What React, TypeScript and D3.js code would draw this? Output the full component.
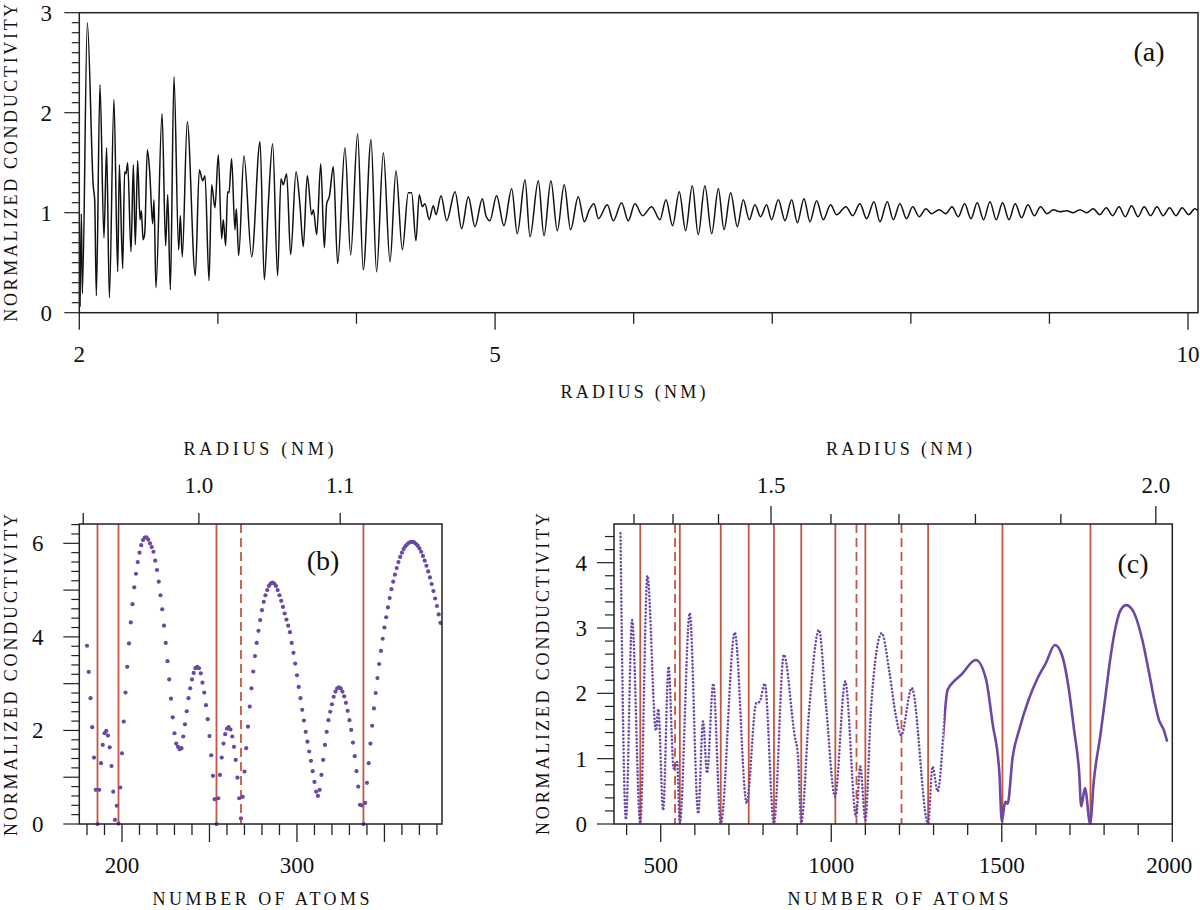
import React from "react";
import * as d3 from "d3";

// ---------- Panel (a): conductivity vs radius (nm) ----------
const aRadius = [
  2.005, 2.015, 2.022, 2.058, 2.101, 2.111, 2.123, 2.149, 2.178, 2.197, 2.217, 2.25, 2.277, 2.289, 2.313, 2.327, 2.337, 2.349, 2.373, 2.39,
  2.404, 2.421, 2.438, 2.448, 2.46, 2.472, 2.491, 2.508, 2.529, 2.539, 2.553, 2.597, 2.623, 2.638, 2.657, 2.683, 2.717, 2.729, 2.743, 2.779,
  2.837, 2.866, 2.89, 2.907, 2.936, 2.955, 2.979, 3.003, 3.027, 3.039, 3.056, 3.07, 3.08, 3.099, 3.123, 3.133, 3.15,
  3.188, 3.244, 3.304, 3.335, 3.364, 3.395, 3.431, 3.455, 3.472, 3.496, 3.525, 3.564, 3.592, 3.616, 3.645, 3.677, 3.689, 3.713, 3.742, 3.768,
  3.785, 3.804, 3.833, 3.864, 3.917, 3.958, 4.008, 4.049, 4.105, 4.145, 4.194, 4.242, 4.285, 4.331, 4.374, 4.398, 4.429, 4.453, 4.475, 4.494,
  4.525, 4.554, 4.574, 4.61, 4.651, 4.711, 4.759, 4.807,
  4.855, 4.908, 4.934, 4.963, 5.011, 5.064, 5.12, 5.16, 5.216, 5.252, 5.312, 5.353, 5.403, 5.449, 5.499, 5.545, 5.6, 5.644, 5.68, 5.714,
  5.745, 5.81, 5.853, 5.913, 5.961, 6.009, 6.065, 6.13, 6.19, 6.233, 6.281, 6.329, 6.375, 6.423, 6.466,
  6.514, 6.563, 6.611, 6.652, 6.7, 6.748, 6.791, 6.834, 6.875, 6.916, 6.959, 6.995, 7.044, 7.092, 7.14, 7.181, 7.229, 7.272, 7.32, 7.368,
  7.421, 7.464, 7.532, 7.58, 7.633, 7.681, 7.734, 7.777, 7.83, 7.873, 7.921, 7.969, 8.013, 8.061, 8.109, 8.15,
  8.205, 8.253, 8.297, 8.342, 8.388, 8.434, 8.479, 8.525, 8.571, 8.616, 8.662, 8.708, 8.753, 8.799, 8.845, 8.891, 8.936, 8.982, 9.028, 9.076,
  9.124, 9.172, 9.22, 9.268, 9.316, 9.364, 9.41, 9.456, 9.502, 9.547, 9.593, 9.639, 9.684, 9.73, 9.776, 9.821, 9.867, 9.913, 9.958, 10.004,
  10.05, 10.071,
];
const aConductivity = [
  0.06, 0.99, 0.19, 2.9, 1.26, 1.13, 0.17, 2.28, 0.75, 1.65, 0.15, 2.13, 0.41, 1.48, 0.44, 1.41, 1.39, 1.5, 0.61, 1.48,
  0.68, 1.52, 0.93, 1.02, 0.73, 0.79, 1.63, 1.41, 0.89, 1.13, 0.25, 1.99, 0.67, 1.18, 0.23, 2.36, 0.63, 0.97, 0.56, 1.91,
  0.37, 1.43, 1.32, 1.37, 0.32, 1.28, 1.05, 1.58, 0.74, 0.93, 0.67, 1.21, 1.2, 1.54, 0.83, 1.04, 0.57,
  1.57, 0.56, 1.71, 0.33, 1.09, 1.69, 0.37, 1.34, 1.28, 1.39, 0.58, 1.41, 1.08, 0.66, 1.37, 0.98, 1.03, 0.78, 1.49, 0.65,
  1.09, 1.16, 1.46, 0.49, 1.65, 0.58, 1.79, 0.43, 1.73, 0.41, 1.6, 0.51, 1.42, 0.63, 1.2, 1.2, 0.72, 1.18, 1.06, 1.09,
  0.93, 1.07, 0.98, 1.17, 0.92, 1.21, 0.84, 1.16,
  0.86, 1.14, 0.97, 0.92, 1.17, 0.87, 1.24, 0.79, 1.33, 0.76, 1.32, 0.77, 1.32, 0.82, 1.28, 0.83, 1.16, 0.91, 1.03, 1.09,
  0.94, 1.08, 0.92, 1.1, 0.92, 1.09, 0.97, 1.06, 0.93, 1.13, 0.87, 1.21, 0.82, 1.27, 0.78,
  1.27, 0.79, 1.24, 0.83, 1.2, 0.86, 1.13, 0.93, 1.08, 0.96, 1.08, 0.93, 1.13, 0.92, 1.13, 0.9, 1.14, 0.91, 1.12, 0.93,
  1.08, 0.98, 1.06, 0.97, 1.09, 0.94, 1.11, 0.91, 1.11, 0.93, 1.09, 0.94, 1.06, 0.96, 1.04, 0.99,
  1.03, 0.99, 1.06, 0.96, 1.09, 0.94, 1.1, 0.93, 1.11, 0.93, 1.1, 0.93, 1.09, 0.95, 1.08, 0.97, 1.06, 0.99, 1.03, 1.01,
  1.02, 1.0, 1.03, 1.0, 1.04, 0.98, 1.05, 0.97, 1.06, 0.96, 1.07, 0.96, 1.06, 0.97, 1.06, 0.97, 1.05, 0.97, 1.05, 0.98,
  1.04, 1.02,
];
const aXMajor = [2, 5, 10];
const aXMinor = [3, 4, 6, 7, 8, 9];

// ---------- Panel (b): one value per atom number, N = 180 ... 382 ----------
const bFirstAtom = 180;
const bConductivity = [
  3.81, 3.25, 2.69, 2.07, 1.42, 0.73, 0.0, 0.73, 1.3, 1.69, 1.94, 1.99, 1.89, 1.64, 1.24, 0.69, 0.09, 0.39, 0.01, 0.78,
  1.51, 2.19, 2.81, 3.36, 3.86, 4.31, 4.7, 5.06, 5.35, 5.6, 5.8, 5.96, 6.07, 6.12, 6.13, 6.08, 6.0, 5.92, 5.82, 5.63,
  5.43, 5.18, 4.89, 4.59, 4.24, 3.87, 3.48, 3.09, 2.68, 2.28, 1.94, 1.72, 1.65, 1.6, 1.62, 1.87, 2.13, 2.41, 2.69, 2.9,
  3.09, 3.23, 3.33, 3.36, 3.33, 3.22, 3.02, 2.81, 2.54, 2.24, 1.88, 1.47, 1.03, 0.53, 0.0, 0.55, 1.05, 1.42, 1.72, 1.92,
  2.04, 2.07, 2.02, 1.87, 1.65, 1.37, 0.99, 0.55, 0.12, 0.58, 1.12, 1.62, 2.08, 2.51, 2.9, 3.26, 3.59, 3.87, 4.13, 4.36,
  4.57, 4.75, 4.89, 5.0, 5.09, 5.14, 5.16, 5.14, 5.09, 5.0, 4.89, 4.77, 4.64, 4.5, 4.37, 4.24, 4.1, 3.87, 3.66, 3.43,
  3.18, 2.93, 2.69, 2.44, 2.21, 1.97, 1.76, 1.55, 1.35, 1.13, 0.9, 0.69, 0.6, 0.73, 1.05, 1.37, 1.69, 1.97, 2.22, 2.4,
  2.56, 2.72, 2.83, 2.9, 2.92, 2.9, 2.83, 2.73, 2.59, 2.42, 2.22, 2.01, 1.74, 1.45, 1.13, 0.8, 0.41, 0.4, 0.0, 0.45,
  0.88, 1.3, 1.72, 2.1, 2.47, 2.8, 3.12, 3.42, 3.7, 3.96, 4.2, 4.42, 4.63, 4.83, 5.02, 5.18, 5.33, 5.47, 5.6, 5.71,
  5.8, 5.88, 5.94, 5.98, 6.01, 6.03, 6.03, 6.02, 5.99, 5.95, 5.89, 5.82, 5.73, 5.63, 5.52, 5.4, 5.27, 5.13, 4.98, 4.82,
  4.66, 4.48, 4.3,
];
const bShells = [186, 198, 254, 338];
const bShellsDashed = [268];

// ---------- Panel (c): conductivity vs number of atoms ----------
const cAtoms = [
  382, 398, 416, 440, 461, 486, 493, 507, 523, 538, 548, 556, 585, 610, 624, 636, 654, 676, 717, 752,
  780, 790, 805, 832, 861, 893, 902, 912, 936, 964, 985, 1011, 1041, 1073, 1085, 1100, 1117, 1148, 1171, 1190,
  1205, 1236, 1284, 1297, 1312, 1341, 1361, 1380, 1424, 1454, 1473, 1493, 1500, 1510, 1517, 1532, 1551, 1580, 1605, 1629,
  1656, 1678, 1697, 1712, 1727, 1733, 1744, 1759, 1770, 1790, 1805, 1819, 1834, 1849, 1865, 1888, 1912, 1932, 1951, 1961,
  1975, 1985,
];
const cConductivity = [
  4.45, 0.07, 3.12, 0.01, 3.8, 1.43, 1.76, 0.21, 2.41, 0.85, 0.95, 0.01, 3.23, 0.16, 1.57, 0.78, 2.15, 0.01, 2.93, 0.32,
  1.85, 1.87, 2.15, 0.01, 2.59, 1.34, 1.08, 0.02, 1.8, 2.97, 1.8, 0.42, 2.18, 0.11, 0.88, 0.06, 1.8, 2.92, 2.31, 1.64,
  1.36, 2.08, 0.01, 0.88, 0.5, 2.05, 2.19, 2.28, 2.51, 2.21, 1.54, 0.78, 0.04, 0.34, 0.31, 1.03, 1.44, 1.92, 2.23, 2.46,
  2.74, 2.56, 2.05, 1.44, 0.78, 0.27, 0.55, 0.01, 0.67, 1.39, 2.0, 2.56, 3.02, 3.28, 3.35, 3.23, 2.82, 2.31, 1.8, 1.59,
  1.44, 1.26,
];
const cShells = [440, 556, 676, 758, 832, 912, 1012, 1100, 1284, 1502, 1760];
const cShellsDashed = [542, 1074, 1206];

// radius (nm) = R0 * N^(1/3)
const R0 = 0.16004;
const bRadiusTicks = [0.9, 1.0, 1.1];
const bRadiusLabels = [1.0, 1.1];
const cRadiusTicks = [1.2, 1.3, 1.4, 1.5, 1.6, 1.7, 1.8, 1.9, 2.0];
const cRadiusLabels = [1.5, 2.0];

const FONT = "'Liberation Serif', 'DejaVu Serif', 'Noto Serif', 'Times New Roman', Times, serif";
const INK = "#222";
const PURPLE = "#6a48a4";
const RED = "#c4573f";

const range = (a: number, b: number, s: number) => {
  const out: number[] = [];
  for (let i = 0; a + i * s <= b + 1e-9; i++) out.push(+(a + i * s).toFixed(6));
  return out;
};
const atomsForRadius = (r: number) => Math.pow(r / R0, 3);

export default function App() {
  const aX = d3.scaleLinear().domain([2, 10.072]).range([79.3, 1198]);
  const aY = d3.scaleLinear().domain([0, 3]).range([312.7, 12.7]);
  const bX = d3.scaleLinear().domain([175.6, 382.9]).range([79.3, 442]);
  const bY = d3.scaleLinear().domain([0, 6.413]).range([824, 524]);
  const cX = d3.scaleLinear().domain([363, 2000]).range([614, 1172.3]);
  const cY = d3.scaleLinear().domain([0, 4.592]).range([824, 524]);

  const aPath = d3
    .line<number>()
    .x((_, i) => aX(aRadius[i]))
    .y((d) => aY(d))
    .curve(d3.curveMonotoneX)(aConductivity) as string;

  const cPath = d3
    .line<number>()
    .x((_, i) => cX(cAtoms[i]))
    .y((d) => cY(d))
    .curve(d3.curveMonotoneX)(cConductivity) as string;

  const cSplit = cX(1330);

  const tickFont = 23;
  const tickDy = 8;
  const titleFont = 18;

  const txt = (props: any, s: string) => (
    <text style={{ fontFamily: FONT }} fill="#111" {...props}>
      {s}
    </text>
  );

  return (
    <svg
      width={1200}
      height={910}
      style={{ position: "absolute", left: 0, top: 0, background: "#fff", fontFamily: FONT }}
    >
      <defs>
        <clipPath id="clipA">
          <rect x={79.3} y={12.7} width={1198 - 79.3} height={300} />
        </clipPath>
        <clipPath id="clipB">
          <rect x={79.3} y={520} width={442 - 79.3} height={306} />
        </clipPath>
        <clipPath id="clipCL">
          <rect x={614} y={520} width={cSplit - 614} height={306} />
        </clipPath>
        <clipPath id="clipCR">
          <rect x={cSplit} y={520} width={1172.3 - cSplit} height={306} />
        </clipPath>
      </defs>

      {/* ================= Panel (a) ================= */}
      <g>
        {range(0, 3, 0.1).map((v) => {
          const major = Math.abs(v - Math.round(v)) < 1e-6;
          return (
            <line key={"ay" + v} x1={79.3 - (major ? 15 : 7.5)} x2={79.3} y1={aY(v)} y2={aY(v)} stroke={INK} strokeWidth={1.2} />
          );
        })}
        {[0, 1, 2, 3].map((v) =>
          txt({ key: "ayl" + v, x: 52, y: aY(v) + tickDy, textAnchor: "end", fontSize: tickFont }, String(v))
        )}
        {aXMajor.map((v) => (
          <line key={"axM" + v} x1={aX(v)} x2={aX(v)} y1={312.7} y2={312.7 + 17} stroke={INK} strokeWidth={1.3} />
        ))}
        {aXMinor.map((v) => (
          <line key={"axm" + v} x1={aX(v)} x2={aX(v)} y1={312.7} y2={312.7 + 11} stroke={INK} strokeWidth={1.3} />
        ))}
        {aXMajor.map((v) =>
          txt({ key: "axl" + v, x: aX(v), y: 362, textAnchor: "middle", fontSize: tickFont }, String(v))
        )}
        <path d={aPath} fill="none" stroke="#111" strokeWidth={1.5} clipPath="url(#clipA)" />
        <rect x={79.3} y={12.7} width={1198 - 79.3} height={300} fill="none" stroke={INK} strokeWidth={1.5} />
        {txt({ x: 1149, y: 61, textAnchor: "middle", fontSize: 28 }, "(a)")}
        {txt({ x: 633, y: 398, textAnchor: "middle", fontSize: titleFont, textLength: 145, lengthAdjust: "spacing" }, "RADIUS (NM)")}
        {txt(
          { transform: "translate(17,162.7) rotate(-90)", textAnchor: "middle", fontSize: titleFont, textLength: 318, lengthAdjust: "spacing" },
          "NORMALIZED CONDUCTIVITY"
        )}
      </g>

      {/* ================= Panel (b) ================= */}
      <g>
        {range(0, 6.4, 0.2).map((v) => {
          const major = Math.abs(v - Math.round(v)) < 1e-6;
          return (
            <line key={"by" + v} x1={79.3 - (major ? 16 : 8)} x2={79.3} y1={bY(v)} y2={bY(v)} stroke={INK} strokeWidth={1.2} />
          );
        })}
        {[0, 2, 4, 6].map((v) =>
          txt({ key: "byl" + v, x: 43.5, y: bY(v) + tickDy, textAnchor: "end", fontSize: tickFont }, String(v))
        )}
        {range(180, 380, 10).map((v) => {
          const major = v % 50 === 0;
          return (
            <line key={"bx" + v} x1={bX(v)} x2={bX(v)} y1={824} y2={824 + (major ? 18 : 11)} stroke={INK} strokeWidth={1.3} />
          );
        })}
        {[200, 300].map((v) =>
          txt({ key: "bxl" + v, x: bX(v), y: 873, textAnchor: "middle", fontSize: tickFont }, String(v))
        )}
        {bRadiusTicks.map((r) => (
          <line key={"br" + r} x1={bX(atomsForRadius(r))} x2={bX(atomsForRadius(r))} y1={524} y2={513} stroke={INK} strokeWidth={1.3} />
        ))}
        {bRadiusLabels.map((r) =>
          txt({ key: "brl" + r, x: bX(atomsForRadius(r)), y: 493, textAnchor: "middle", fontSize: tickFont }, r.toFixed(1))
        )}
        <g clipPath="url(#clipB)">
          {bShells.map((n) => (
            <line key={"bs" + n} x1={bX(n)} x2={bX(n)} y1={524} y2={824} stroke={RED} strokeWidth={1.8} />
          ))}
          {bShellsDashed.map((n) => (
            <line key={"bsd" + n} x1={bX(n)} x2={bX(n)} y1={524} y2={824} stroke={RED} strokeWidth={1.8} strokeDasharray="9 5" />
          ))}
          {bConductivity.map((v, i) => (
            <circle key={"bd" + i} cx={bX(bFirstAtom + i)} cy={bY(v)} r={2.1} fill={PURPLE} />
          ))}
        </g>
        <rect x={79.3} y={524} width={442 - 79.3} height={300} fill="none" stroke={INK} strokeWidth={1.5} />
        {txt({ x: 323, y: 570, textAnchor: "middle", fontSize: 28 }, "(b)")}
        {txt({ x: 258.5, y: 455, textAnchor: "middle", fontSize: titleFont, textLength: 150, lengthAdjust: "spacing" }, "RADIUS (NM)")}
        {txt({ x: 261, y: 905, textAnchor: "middle", fontSize: titleFont, textLength: 217, lengthAdjust: "spacing" }, "NUMBER OF ATOMS")}
        {txt(
          { transform: "translate(17,675) rotate(-90)", textAnchor: "middle", fontSize: titleFont, textLength: 322, lengthAdjust: "spacing" },
          "NORMALIZED CONDUCTIVITY"
        )}
      </g>

      {/* ================= Panel (c) ================= */}
      <g>
        {range(0, 4.4, 0.2).map((v) => {
          const major = Math.abs(v - Math.round(v)) < 1e-6;
          return (
            <line key={"cy" + v} x1={614 - (major ? 17 : 9)} x2={614} y1={cY(v)} y2={cY(v)} stroke={INK} strokeWidth={1.2} />
          );
        })}
        {[0, 1, 2, 3, 4].map((v) =>
          txt({ key: "cyl" + v, x: 587, y: cY(v) + tickDy, textAnchor: "end", fontSize: tickFont }, String(v))
        )}
        {range(400, 2000, 100).map((v) => {
          const major = v % 500 === 0;
          return (
            <line key={"cx" + v} x1={cX(v)} x2={cX(v)} y1={824} y2={824 + (major ? 18 : 11)} stroke={INK} strokeWidth={1.3} />
          );
        })}
        {[500, 1000, 1500, 2000].map((v) =>
          txt({ key: "cxl" + v, x: cX(v) - (v === 2000 ? 3 : 0), y: 873, textAnchor: "middle", fontSize: tickFont }, String(v))
        )}
        {cRadiusTicks.map((r) => {
          const major = cRadiusLabels.includes(r);
          return (
            <line key={"cr" + r} x1={cX(atomsForRadius(r))} x2={cX(atomsForRadius(r))} y1={524} y2={524 - (major ? 18 : 10)} stroke={INK} strokeWidth={1.3} />
          );
        })}
        {cRadiusLabels.map((r) =>
          txt({ key: "crl" + r, x: cX(atomsForRadius(r)), y: 493, textAnchor: "middle", fontSize: tickFont }, r.toFixed(1))
        )}
        {cShells.map((n) => (
          <line key={"cs" + n} x1={cX(n)} x2={cX(n)} y1={524} y2={824} stroke={RED} strokeWidth={1.8} />
        ))}
        {cShellsDashed.map((n) => (
          <line key={"csd" + n} x1={cX(n)} x2={cX(n)} y1={524} y2={824} stroke={RED} strokeWidth={1.8} strokeDasharray="9 5" />
        ))}
        <path d={cPath} fill="none" stroke={PURPLE} strokeWidth={2.6} strokeLinecap="round" strokeDasharray="0 3.6" clipPath="url(#clipCL)" />
        <path d={cPath} fill="none" stroke={PURPLE} strokeWidth={2.6} clipPath="url(#clipCR)" />
        <rect x={614} y={524} width={1172.3 - 614} height={300} fill="none" stroke={INK} strokeWidth={1.5} />
        {txt({ x: 1133, y: 573, textAnchor: "middle", fontSize: 28 }, "(c)")}
        {txt({ x: 899, y: 455, textAnchor: "middle", fontSize: titleFont, textLength: 146, lengthAdjust: "spacing" }, "RADIUS (NM)")}
        {txt({ x: 898, y: 905, textAnchor: "middle", fontSize: titleFont, textLength: 221, lengthAdjust: "spacing" }, "NUMBER OF ATOMS")}
        {txt(
          { transform: "translate(549,674) rotate(-90)", textAnchor: "middle", fontSize: titleFont, textLength: 322, lengthAdjust: "spacing" },
          "NORMALIZED CONDUCTIVITY"
        )}
      </g>
    </svg>
  );
}
